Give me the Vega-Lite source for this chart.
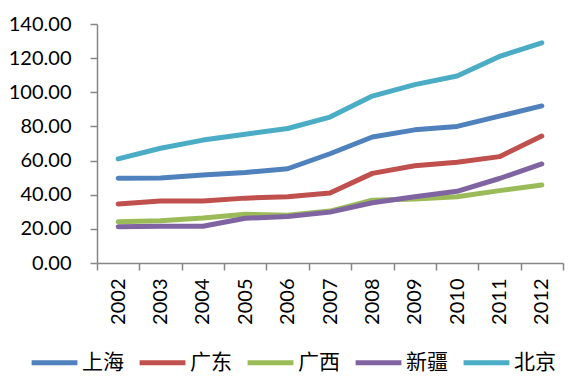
{
  "$schema": "https://vega.github.io/schema/vega-lite/v6.json",
  "width": 466,
  "height": 239,
  "autosize": {"type": "none"},
  "padding": {"left": 97, "top": 24, "right": 6, "bottom": 127},
  "background": "white",
  "config": {"view": {"stroke": null}, "font": "Lato"},
  "data": {"values": [
    {"year": "2002", "region": "上海", "v": 49.7},
    {"year": "2003", "region": "上海", "v": 49.8},
    {"year": "2004", "region": "上海", "v": 51.5},
    {"year": "2005", "region": "上海", "v": 53.0},
    {"year": "2006", "region": "上海", "v": 55.2},
    {"year": "2007", "region": "上海", "v": 64.0},
    {"year": "2008", "region": "上海", "v": 73.8},
    {"year": "2009", "region": "上海", "v": 78.0},
    {"year": "2010", "region": "上海", "v": 80.0},
    {"year": "2011", "region": "上海", "v": 86.0},
    {"year": "2012", "region": "上海", "v": 92.0},
    {"year": "2002", "region": "广东", "v": 34.6},
    {"year": "2003", "region": "广东", "v": 36.3},
    {"year": "2004", "region": "广东", "v": 36.3},
    {"year": "2005", "region": "广东", "v": 38.0},
    {"year": "2006", "region": "广东", "v": 38.8},
    {"year": "2007", "region": "广东", "v": 41.0},
    {"year": "2008", "region": "广东", "v": 52.5},
    {"year": "2009", "region": "广东", "v": 57.0},
    {"year": "2010", "region": "广东", "v": 59.0},
    {"year": "2011", "region": "广东", "v": 62.3},
    {"year": "2012", "region": "广东", "v": 74.4},
    {"year": "2002", "region": "广西", "v": 24.2},
    {"year": "2003", "region": "广西", "v": 24.8},
    {"year": "2004", "region": "广西", "v": 26.3},
    {"year": "2005", "region": "广西", "v": 28.5},
    {"year": "2006", "region": "广西", "v": 28.0},
    {"year": "2007", "region": "广西", "v": 30.4},
    {"year": "2008", "region": "广西", "v": 36.8},
    {"year": "2009", "region": "广西", "v": 37.5},
    {"year": "2010", "region": "广西", "v": 38.8},
    {"year": "2011", "region": "广西", "v": 42.4},
    {"year": "2012", "region": "广西", "v": 45.7},
    {"year": "2002", "region": "新疆", "v": 21.3},
    {"year": "2003", "region": "新疆", "v": 21.5},
    {"year": "2004", "region": "新疆", "v": 21.5},
    {"year": "2005", "region": "新疆", "v": 26.2},
    {"year": "2006", "region": "新疆", "v": 27.3},
    {"year": "2007", "region": "新疆", "v": 29.8},
    {"year": "2008", "region": "新疆", "v": 35.3},
    {"year": "2009", "region": "新疆", "v": 38.8},
    {"year": "2010", "region": "新疆", "v": 42.0},
    {"year": "2011", "region": "新疆", "v": 49.5},
    {"year": "2012", "region": "新疆", "v": 58.0},
    {"year": "2002", "region": "北京", "v": 61.0},
    {"year": "2003", "region": "北京", "v": 67.2},
    {"year": "2004", "region": "北京", "v": 72.0},
    {"year": "2005", "region": "北京", "v": 75.4},
    {"year": "2006", "region": "北京", "v": 78.8},
    {"year": "2007", "region": "北京", "v": 85.5},
    {"year": "2008", "region": "北京", "v": 97.8},
    {"year": "2009", "region": "北京", "v": 104.5},
    {"year": "2010", "region": "北京", "v": 109.5},
    {"year": "2011", "region": "北京", "v": 121.0},
    {"year": "2012", "region": "北京", "v": 129.0}
  ]},
  "mark": {"type": "line", "strokeWidth": 5, "strokeCap": "round", "strokeJoin": "round"},
  "encoding": {
    "x": {
      "field": "year", "type": "ordinal",
      "scale": {"type": "band", "paddingInner": 0, "paddingOuter": 0},
      "axis": {
        "title": null, "labelAngle": -90, "labelFontSize": 20, "labelColor": "#000000",
        "labelFont": "Lato", "labelPadding": 8,
        "domainColor": "#868686", "domainWidth": 1.5, "tickColor": "#868686", "tickWidth": 1.5,
        "tickSize": 7, "tickBand": "extent", "grid": false
      }
    },
    "y": {
      "field": "v", "type": "quantitative",
      "scale": {"domain": [0, 140], "nice": false},
      "axis": {
        "title": null, "values": [0, 20, 40, 60, 80, 100, 120, 140], "format": ".2f",
        "labelFontSize": 20, "labelColor": "#000000", "labelFont": "Lato", "labelPadding": 19,
        "domainColor": "#868686", "domainWidth": 1.5, "tickColor": "#868686", "tickWidth": 1.5,
        "tickSize": 7, "grid": false
      }
    },
    "color": {
      "field": "region", "type": "nominal",
      "scale": {
        "domain": ["上海", "广东", "广西", "新疆", "北京"],
        "range": ["#4F81BD", "#C0504D", "#9BBB59", "#8064A2", "#4BACC6"]
      },
      "legend": {
        "title": null, "orient": "none", "legendX": -68, "legendY": 313, "direction": "horizontal",
        "symbolType": "stroke", "symbolSize": 2100, "symbolStrokeWidth": 5,
        "labelFont": "Noto Sans CJK SC", "labelFontSize": 21, "labelColor": "#000000",
        "labelOffset": 2, "columnPadding": 5
      }
    }
  }
}
